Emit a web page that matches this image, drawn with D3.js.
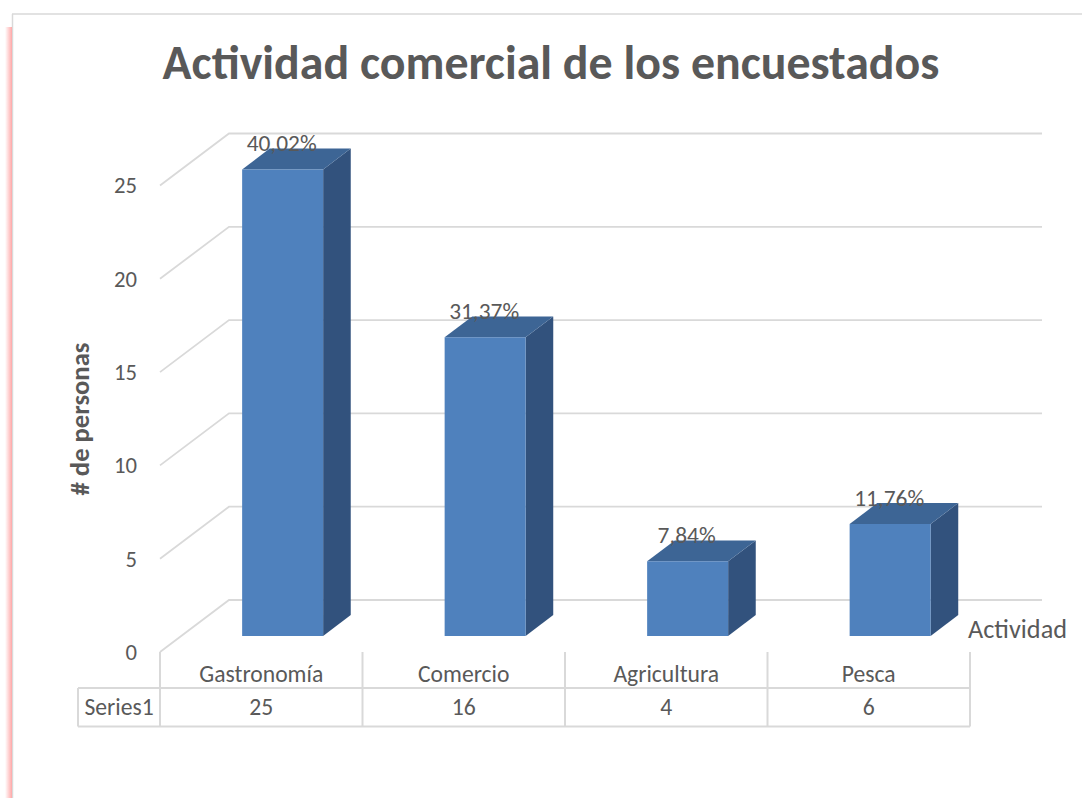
<!DOCTYPE html>
<html>
<head>
<meta charset="utf-8">
<script src="https://cdn.jsdelivr.net/npm/d3@7"></script>
<style>
  html, body { margin: 0; padding: 0; background: #fff; }
  svg { display: block; }
  text { font-family: Calibri, Carlito, Lato, sans-serif; fill: #595959; }
</style>
</head>
<body>
<div id="chart"></div>
<script>
// ---------------------------------------------------------------- data
var categories = ["Gastronomía", "Comercio", "Agricultura", "Pesca"];
var values = [25, 16, 4, 6];
var pctLabels = ["40,02%", "31,37%", "7,84%", "11,76%"];
var yTicks = [0, 5, 10, 15, 20, 25];
var seriesName = "Series1";

// ---------------------------------------------------------------- layout
var W = 1082, H = 798;
var floorFrontY = 652;         // front edge of the floor (value 0, depth 0)
var DEPTH = {dx: 69, dy: -52}; // vector from front plane to back wall
var BAR_FRONT = 0.31, BAR_BACK = 0.71; // bar depth fractions
var BAR_WIDTH = 0.40;          // share of a category band

var svg = d3.select("#chart").append("svg")
    .attr("width", W).attr("height", H);

var x = d3.scaleBand().domain(categories).range([160, 970]).padding(0);
var y = d3.scaleLinear().domain([0, 25]).range([0, 466.5]);

// point in the 3D box -> screen
function proj(px, val, depth) {
    return [px + depth * DEPTH.dx, floorFrontY + depth * DEPTH.dy - y(val)];
}

// font size that makes a text reach a target width
function fitSize(txt, target, weight) {
    var t = svg.append("text").style("font-size", "20px")
        .style("font-weight", weight || "normal").text(txt);
    var w = t.node().getComputedTextLength();
    t.remove();
    return 20 * target / w;
}

var fsSmall = fitSize("Gastronomía", 124);
var fsPct = fitSize("40,02%", 70);
var fsTick = fitSize("25", 23);

// ---------------------------------------------------------------- frame
svg.append("line").attr("x1", 12).attr("x2", W).attr("y1", 14).attr("y2", 14)
    .attr("stroke", "#d9d9d9").attr("stroke-width", 1.5);
svg.append("line").attr("x1", 12.5).attr("x2", 12.5).attr("y1", 14).attr("y2", H)
    .attr("stroke", "#d9d9d9").attr("stroke-width", 1.5);
var grad = svg.append("defs").append("linearGradient").attr("id", "pink")
    .attr("x1", 0).attr("x2", 1).attr("y1", 0).attr("y2", 0);
grad.append("stop").attr("offset", 0).attr("stop-color", "#ffffff");
grad.append("stop").attr("offset", 1).attr("stop-color", "#ffa8a8");
svg.append("rect").attr("x", 5).attr("y", 27).attr("width", 7).attr("height", H - 27)
    .attr("fill", "url(#pink)");

// ---------------------------------------------------------------- title
svg.append("text")
    .attr("x", 551).attr("y", 79)
    .attr("text-anchor", "middle")
    .style("font-size", fitSize("Actividad comercial de los encuestados", 777, "bold") + "px")
    .style("font-weight", "bold")
    .text("Actividad comercial de los encuestados");

// ---------------------------------------------------------------- walls / grid
var x0 = x.range()[0], x1 = x.range()[1];
yTicks.forEach(function(t) {
    var a = proj(x0, t, 0), b = proj(x0, t, 1), c = proj(x1 + 3, t, 1);
    svg.append("polyline")
        .attr("points", [a, b, c].map(function(p) { return p.join(","); }).join(" "))
        .attr("fill", "none").attr("stroke", "#d9d9d9").attr("stroke-width", 1.8);
});

// y tick labels
yTicks.forEach(function(t) {
    var p = proj(x0, t, 0);
    svg.append("text")
        .attr("x", 137).attr("y", p[1])
        .attr("dy", "0.35em")
        .attr("text-anchor", "end")
        .style("font-size", fsTick + "px")
        .text(t);
});

// y axis title
svg.append("text")
    .attr("transform", "translate(89,419) rotate(-90)")
    .attr("text-anchor", "middle")
    .style("font-size", fitSize("# de personas", 153, "bold") + "px")
    .style("font-weight", "bold")
    .text("# de personas");

// x axis title
svg.append("text")
    .attr("x", 1067).attr("y", 638)
    .attr("text-anchor", "end")
    .style("font-size", fitSize("Actividad", 99) + "px")
    .text("Actividad");

// ---------------------------------------------------------------- bars
var bars = svg.append("g");
categories.forEach(function(c, i) {
    var v = values[i];
    var cx = x(c) + x.bandwidth() / 2;
    var half = x.bandwidth() * BAR_WIDTH / 2;
    var L = cx - half, R = cx + half;
    var fBL = proj(L, 0, BAR_FRONT), fBR = proj(R, 0, BAR_FRONT),
        fTL = proj(L, v, BAR_FRONT), fTR = proj(R, v, BAR_FRONT),
        bBR = proj(R, 0, BAR_BACK), bTR = proj(R, v, BAR_BACK),
        bTL = proj(L, v, BAR_BACK);
    var pts = function(a) { return a.map(function(p) { return p.join(","); }).join(" "); };
    // side
    bars.append("polygon").attr("points", pts([fBR, bBR, bTR, fTR])).attr("fill", "#32527d");
    // top
    bars.append("polygon").attr("points", pts([fTL, fTR, bTR, bTL])).attr("fill", "#3d6595");
    // front
    bars.append("polygon").attr("points", pts([fBL, fBR, fTR, fTL])).attr("fill", "#4f81bd");
    // label
    bars.append("text")
        .attr("x", cx + BAR_FRONT * DEPTH.dx - 1)
        .attr("y", fTL[1] - 18)
        .attr("text-anchor", "middle")
        .style("font-size", fsPct + "px")
        .text(pctLabels[i]);
});

// ---------------------------------------------------------------- data table
var rowTop = floorFrontY, rowMid = 688, rowBot = 726.5;
var tbl = svg.append("g").attr("stroke", "#d9d9d9").attr("stroke-width", 2);
tbl.append("line").attr("x1", 78).attr("x2", x1).attr("y1", rowMid).attr("y2", rowMid);
tbl.append("line").attr("x1", 78).attr("x2", x1).attr("y1", rowBot).attr("y2", rowBot);
tbl.append("line").attr("x1", 78).attr("x2", 78).attr("y1", rowMid).attr("y2", rowBot);
categories.concat([null]).forEach(function(c) {
    var xx = c === null ? x1 : x(c);
    tbl.append("line").attr("x1", xx).attr("x2", xx).attr("y1", rowTop).attr("y2", rowBot);
});

categories.forEach(function(c, i) {
    var cx = x(c) + x.bandwidth() / 2;
    svg.append("text").attr("x", cx).attr("y", 682)
        .attr("text-anchor", "middle").style("font-size", fsSmall + "px").text(c);
    svg.append("text").attr("x", cx).attr("y", 715)
        .attr("text-anchor", "middle").style("font-size", fsSmall + "px").text(values[i]);
});
svg.append("text").attr("x", 119).attr("y", 715)
    .attr("text-anchor", "middle").style("font-size", fsSmall + "px").text(seriesName);
</script>
</body>
</html>
